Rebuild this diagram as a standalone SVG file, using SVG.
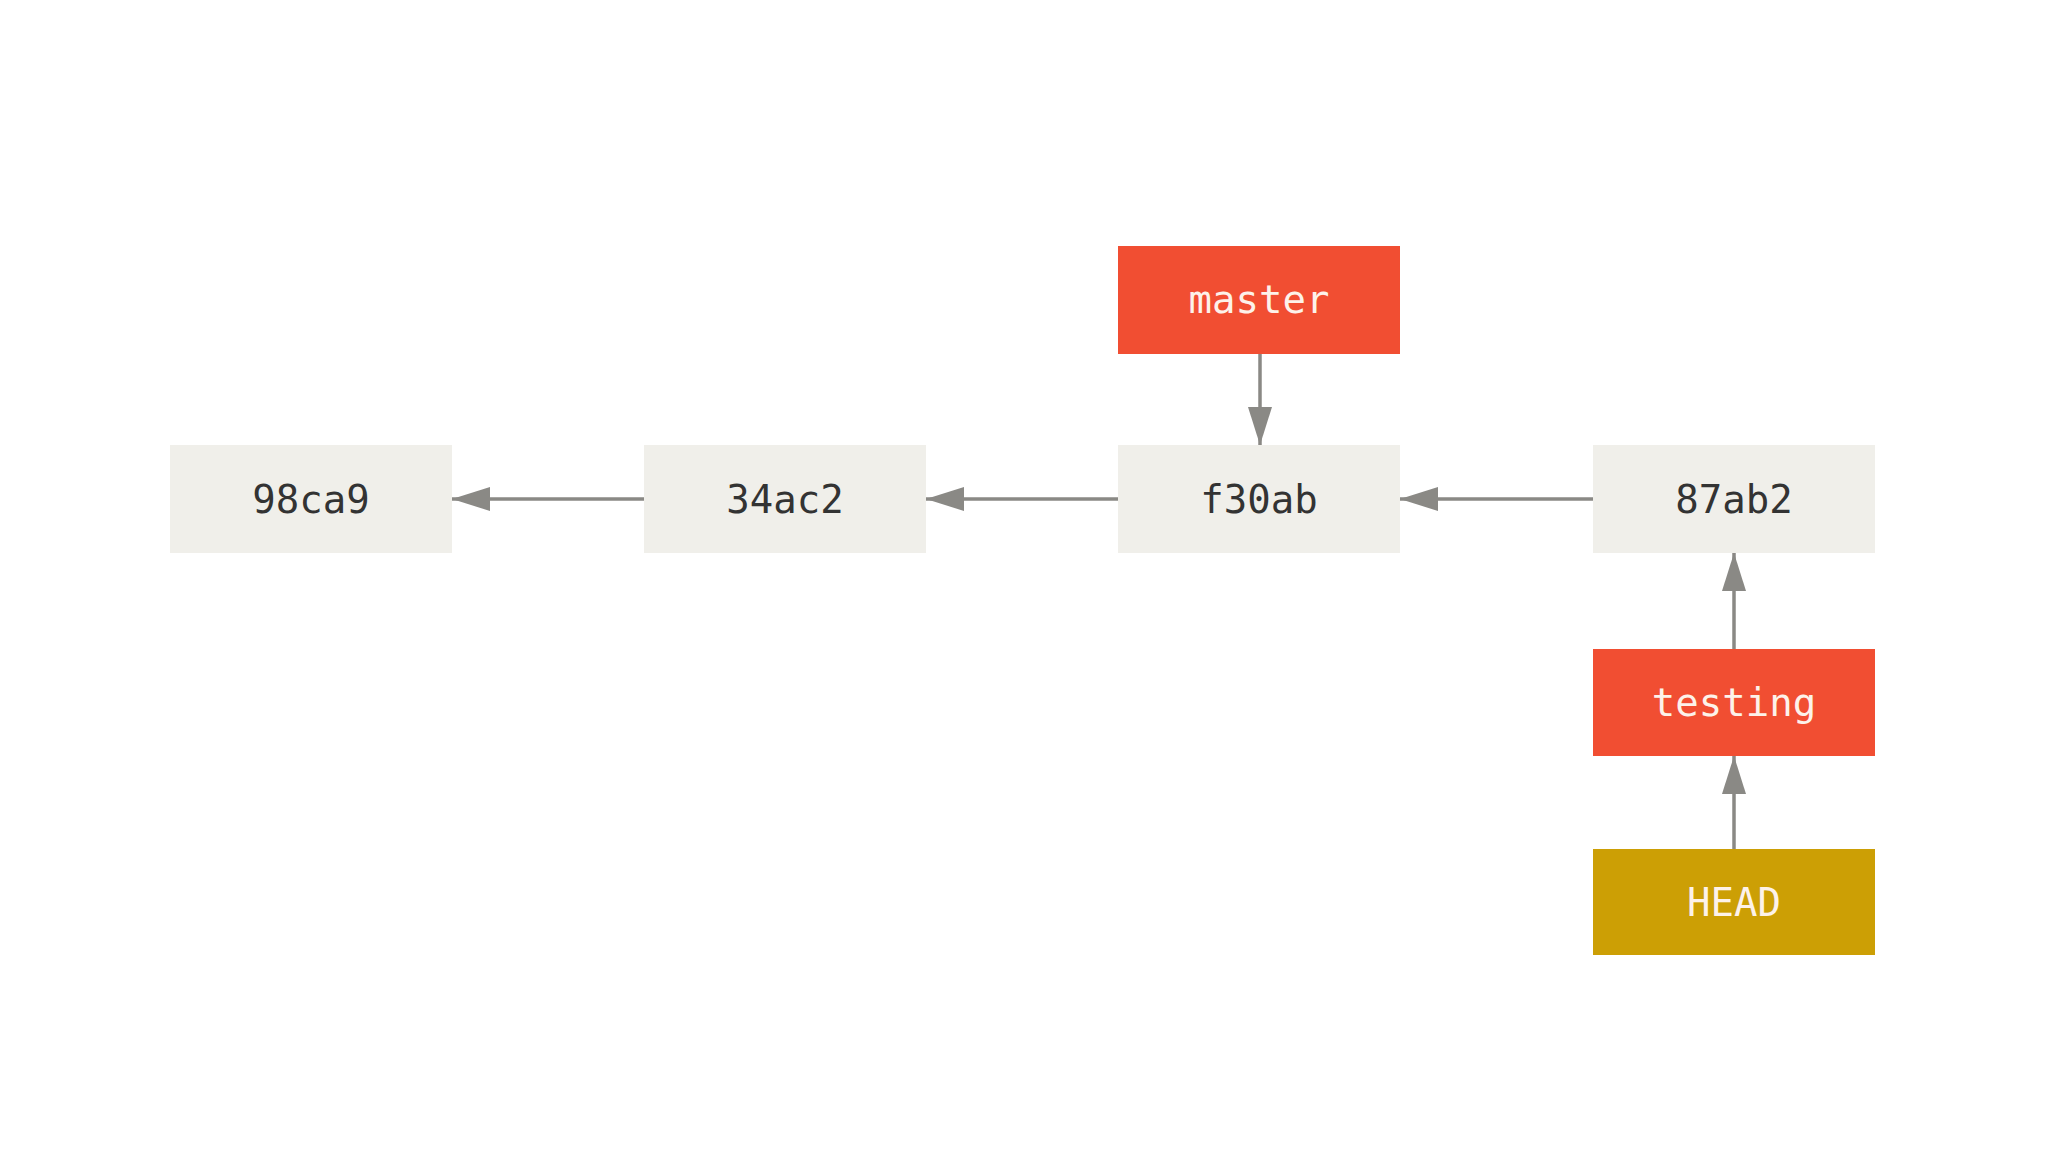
<svg xmlns="http://www.w3.org/2000/svg" width="2048" height="1152" viewBox="0 0 2048 1152">
<style>
.commit{fill:#f0efea}
.branch{fill:#f14e32}
.head{fill:#cc9f05}
.t{font-family:"DejaVu Sans Mono","Liberation Mono",monospace;font-size:39px;text-anchor:middle}
.dark{fill:#333333}
.light{fill:#fdf2ea}
.edge{stroke:#8a8985;stroke-width:3.5;fill:none;marker-end:url(#arr)}
</style>
<defs>
<marker id="arr" markerUnits="userSpaceOnUse" markerWidth="40" markerHeight="26" refX="38" refY="12" orient="auto">
<path d="M0,0 L38,12 L0,24 Z" fill="#8a8985"/>
</marker>
</defs>
<rect width="2048" height="1152" fill="#ffffff"/>
<g id="connectors">
<line class="edge" x1="644" y1="499" x2="452" y2="499"/>
<line class="edge" x1="1118" y1="499" x2="926" y2="499"/>
<line class="edge" x1="1593" y1="499" x2="1400" y2="499"/>
<line class="edge" x1="1260" y1="354" x2="1260" y2="445"/>
<line class="edge" x1="1734" y1="649" x2="1734" y2="553"/>
<line class="edge" x1="1734" y1="849" x2="1734" y2="756"/>
</g>
<g id="c98ca9"><rect class="commit" x="170" y="445" width="282" height="108"/><text class="t dark" x="311" y="513">98ca9</text></g>
<g id="c34ac2"><rect class="commit" x="644" y="445" width="282" height="108"/><text class="t dark" x="785" y="513">34ac2</text></g>
<g id="cf30ab"><rect class="commit" x="1118" y="445" width="282" height="108"/><text class="t dark" x="1259" y="513">f30ab</text></g>
<g id="c87ab2"><rect class="commit" x="1593" y="445" width="282" height="108"/><text class="t dark" x="1734" y="513">87ab2</text></g>
<g id="master"><rect class="branch" x="1118" y="246" width="282" height="108"/><text class="t light" x="1259" y="313">master</text></g>
<g id="testing"><rect class="branch" x="1593" y="649" width="282" height="107"/><text class="t light" x="1734" y="716">testing</text></g>
<g id="HEAD"><rect class="head" x="1593" y="849" width="282" height="106"/><text class="t light" x="1734" y="916">HEAD</text></g>
</svg>
